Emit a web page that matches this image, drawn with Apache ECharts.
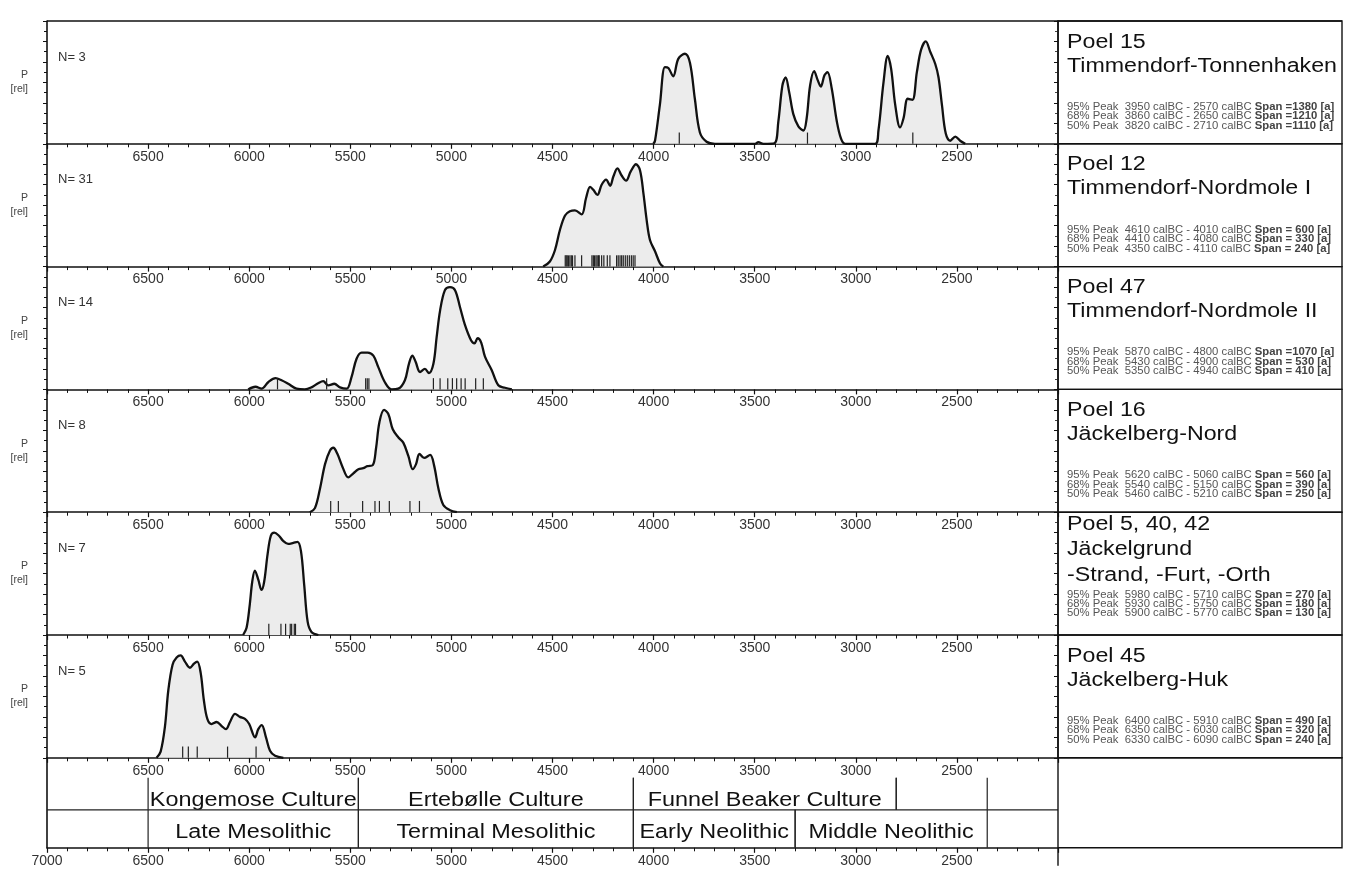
<!DOCTYPE html>
<html>
<head>
<meta charset="utf-8">
<title>Poel – summed calibrated radiocarbon dates</title>
<script src="https://cdn.jsdelivr.net/npm/echarts@6/dist/echarts.min.js"></script>
<style>
  html, body { margin: 0; padding: 0; background: #fff; }
  #chart { width: 1350px; height: 878px; }
</style>
</head>
<body>
<div id="chart"></div>
<script>
// ---- data: relative summed probability per site, [calBC, p] ----
const curvePoel15 = [[4001,0],[3993,0.03],[3969,0.38],[3944,0.75],[3927,0.74],[3903,0.66],[3878,0.83],[3845,0.88],[3820,0.79],[3796,0.44],[3771,0.11],[3738,0.02],[3697,0],[3498,0],[3482,0.015],[3457,0],[3403,0.005],[3383,0.22],[3363,0.57],[3347,0.65],[3330,0.51],[3309,0.29],[3284,0.17],[3259,0.13],[3243,0.25],[3226,0.57],[3206,0.71],[3188,0.62],[3173,0.56],[3155,0.67],[3140,0.70],[3119,0.54],[3094,0.22],[3073,0.05],[3053,0],[2904,0],[2888,0.13],[2863,0.60],[2842,0.86],[2825,0.73],[2805,0.38],[2781,0.16],[2764,0.25],[2743,0.44],[2720,0.43],[2698,0.70],[2677,0.92],[2654,1.0],[2632,0.90],[2607,0.78],[2591,0.65],[2574,0.38],[2555,0.10],[2533,0.03],[2508,0.07],[2484,0.03],[2459,0]];
const curvePoel12 = [[4546,0],[4513,0.05],[4488,0.16],[4463,0.36],[4438,0.50],[4414,0.54],[4389,0.55],[4356,0.51],[4334,0.67],[4314,0.78],[4298,0.75],[4278,0.70],[4257,0.80],[4235,0.85],[4215,0.79],[4199,0.88],[4179,0.96],[4158,0.89],[4136,0.84],[4113,0.93],[4087,1.0],[4067,0.94],[4050,0.71],[4034,0.45],[4018,0.26],[3993,0.15],[3968,0.03],[3952,0]];
const curvePoel47 = [[6005,0],[5969,0.026],[5939,0.007],[5906,0.07],[5870,0.11],[5840,0.09],[5807,0.055],[5766,0.007],[5725,0],[5692,0.02],[5659,0.06],[5634,0.08],[5609,0.04],[5579,0.055],[5551,0.02],[5518,0.007],[5494,0.12],[5469,0.30],[5444,0.36],[5414,0.36],[5386,0.33],[5362,0.22],[5329,0.07],[5296,0],[5263,0.007],[5230,0.09],[5210,0.25],[5193,0.33],[5177,0.27],[5155,0.17],[5131,0.20],[5111,0.16],[5089,0.25],[5073,0.51],[5056,0.77],[5032,0.97],[5007,1.0],[4982,0.97],[4957,0.80],[4933,0.63],[4903,0.48],[4886,0.45],[4870,0.50],[4853,0.46],[4834,0.32],[4801,0.19],[4768,0.04],[4735,0.016],[4701,0]];
const curvePoel16 = [[5700,0],[5675,0.04],[5650,0.23],[5625,0.47],[5601,0.60],[5584,0.63],[5564,0.57],[5538,0.44],[5510,0.34],[5485,0.38],[5460,0.42],[5436,0.43],[5416,0.45],[5389,0.46],[5373,0.62],[5356,0.88],[5333,1.0],[5312,0.96],[5290,0.81],[5262,0.73],[5238,0.68],[5213,0.55],[5191,0.42],[5175,0.47],[5158,0.57],[5135,0.53],[5105,0.56],[5086,0.46],[5064,0.23],[5040,0.07],[5007,0.02],[4973,0]];
const curvePoel5 = [[6030,0],[6013,0.07],[5997,0.30],[5985,0.52],[5972,0.63],[5955,0.54],[5939,0.44],[5926,0.52],[5909,0.79],[5893,0.97],[5876,1.0],[5853,0.97],[5832,0.92],[5807,0.89],[5782,0.90],[5761,0.91],[5744,0.82],[5728,0.49],[5711,0.13],[5692,0.03],[5658,0]];
const curvePoel45 = [[6458,0],[6438,0.06],[6417,0.30],[6400,0.66],[6379,0.91],[6359,0.98],[6339,1.0],[6318,0.94],[6293,0.88],[6273,0.92],[6257,0.94],[6240,0.83],[6224,0.56],[6207,0.38],[6186,0.33],[6161,0.35],[6136,0.31],[6115,0.28],[6095,0.35],[6070,0.43],[6046,0.40],[6021,0.38],[6000,0.33],[5971,0.20],[5955,0.28],[5938,0.32],[5917,0.20],[5897,0.07],[5872,0.02],[5831,0]];

// ---- individual dates (median calBC), drawn as a rug ----
const datesPoel15 = [3873, 3239, 2718];
const datesPoel12 = [4437,4432,4427,4421,4414,4407,4401,4389,4356,4305,4298,4292,4285,4279,4272,4269,4257,4246,4229,4216,4183,4175,4166,4158,4150,4140,4130,4120,4110,4101,4092];
const datesPoel47 = [5860,5617,5424,5416,5408,5089,5056,5018,4995,4974,4952,4932,4880,4842];
const datesPoel16 = [5597,5559,5439,5378,5356,5307,5205,5158];
const datesPoel5 = [5903,5843,5820,5797,5790,5777,5771];
const datesPoel45 = [6329,6301,6257,6107,5966];

// ---- site labels ----
const siteTitles = [
  ['Poel 15', 'Timmendorf-Tonnenhaken'],
  ['Poel 12', 'Timmendorf-Nordmole I'],
  ['Poel 47', 'Timmendorf-Nordmole II'],
  ['Poel 16', 'Jäckelberg-Nord'],
  ['Poel 5, 40, 42', 'Jäckelgrund', '-Strand, -Furt, -Orth'],
  ['Poel 45', 'Jäckelberg-Huk']
];
const sampleCounts = [3, 31, 14, 8, 7, 5];

// ---- highest-density ranges: [level %, from calBC, to calBC, span a, word] ----
const peaksPoel15 = [[95,3950,2570,1380,'Span'],[68,3860,2650,1210,'Span'],[50,3820,2710,1110,'Span']];
const peaksPoel12 = [[95,4610,4010,600,'Spen'],[68,4410,4080,330,'Span'],[50,4350,4110,240,'Span']];
const peaksPoel47 = [[95,5870,4800,1070,'Span'],[68,5430,4900,530,'Span'],[50,5350,4940,410,'Span']];
const peaksPoel16 = [[95,5620,5060,560,'Span'],[68,5540,5150,390,'Span'],[50,5460,5210,250,'Span']];
const peaksPoel5 = [[95,5980,5710,270,'Span'],[68,5930,5750,180,'Span'],[50,5900,5770,130,'Span']];
const peaksPoel45 = [[95,6400,5910,490,'Span'],[68,6350,6030,320,'Span'],[50,6330,6090,240,'Span']];

// ---- archaeological periods ----
const cultureNames = ['Kongemose Culture', 'Ertebølle Culture', 'Funnel Beaker Culture', ''];
const cultureBounds = [6500, 5460, 4100, 2800, 2350];
const periodNames = ['Late Mesolithic', 'Terminal Mesolithic', 'Early Neolithic', 'Middle Neolithic'];
const periodBounds = [6500, 5460, 4100, 3300, 2350];

// ---- axis ----
const yearMin = 2000, yearMax = 7000, yearStep = 500;

// ---- layout ----
const curves = [curvePoel15, curvePoel12, curvePoel47, curvePoel16, curvePoel5, curvePoel45];
const dates = [datesPoel15, datesPoel12, datesPoel47, datesPoel16, datesPoel5, datesPoel45];
const peaks = [peaksPoel15, peaksPoel12, peaksPoel47, peaksPoel16, peaksPoel5, peaksPoel45];

const PLOT_LEFT = 47, PLOT_W = 1011, TOP0 = 21, PANEL_H = 122.8, TABLE_H = 90;
const BOX_LEFT = PLOT_LEFT + PLOT_W, BOX_RIGHT = 1342;
const P_MAX = 1.2, RUG_H = 0.11;
const ROW_SPLIT = 38, DIVIDER_TOP = 70;
const FONT = '"Liberation Sans", Arial, sans-serif';
const INK = '#111';

const chart = echarts.init(document.getElementById('chart'), null, { renderer: 'canvas' });

const grids = [], xAxes = [], yAxes = [], series = [], graphics = [];

function xAxisFor(i, isTable) {
  return {
    type: 'value', gridIndex: i, min: yearMin, max: yearMax, interval: yearStep, inverse: true,
    axisLine: { show: true, onZero: false, lineStyle: { color: INK, width: 1.6 } },
    axisTick: { show: true, length: 5, lineStyle: { color: INK, width: 1.2 } },
    minorTick: { show: true, splitNumber: 5, length: 3.5, lineStyle: { color: INK, width: 1 } },
    axisLabel: {
      show: true, margin: 6, fontSize: 14, color: '#333', fontFamily: FONT,
      formatter: v => String(v),
      showMinLabel: false, showMaxLabel: !!isTable
    },
    splitLine: { show: false }, minorSplitLine: { show: false }
  };
}

for (let i = 0; i < 6; i++) {
  const top = TOP0 + i * PANEL_H;
  grids.push({ left: PLOT_LEFT, top: top, width: PLOT_W, height: PANEL_H });
  xAxes.push(xAxisFor(i, false));
  const yBase = {
    type: 'value', gridIndex: i, min: 0, max: P_MAX, interval: 0.2,
    axisLabel: { show: false }, splitLine: { show: false },
    axisLine: { show: true, lineStyle: { color: INK, width: 1.6 } }
  };
  yAxes.push(Object.assign({}, yBase, {
    position: 'left',
    axisTick: { show: true, length: 4, lineStyle: { color: INK, width: 1 } },
    minorTick: { show: true, splitNumber: 2, length: 3, lineStyle: { color: INK, width: 1 } },
    name: 'P\n[rel]', nameLocation: 'middle', nameGap: 19, nameRotate: 0,
    nameTextStyle: { fontSize: 10.5, color: '#444', lineHeight: 14, fontFamily: FONT }
  }));
  yAxes.push(Object.assign({}, yBase, {
    position: 'right',
    axisTick: { show: true, inside: true, length: 4, lineStyle: { color: INK, width: 1 } },
    minorTick: { show: true, splitNumber: 2, length: 3, lineStyle: { color: '#444', width: 1 } }
  }));

  series.push({
    type: 'line', xAxisIndex: i, yAxisIndex: 2 * i, data: curves[i],
    smooth: 0.35, symbol: 'none', clip: true, z: 2,
    lineStyle: { color: INK, width: 2.3 },
    areaStyle: { color: '#ececec', opacity: 1 }
  });
  series.push({
    type: 'custom', xAxisIndex: i, yAxisIndex: 2 * i, z: 3,
    data: dates[i].map(d => [d]),
    renderItem: function (params, api) {
      const a = api.coord([api.value(0), 0]);
      const b = api.coord([api.value(0), RUG_H]);
      return { type: 'line', shape: { x1: a[0], y1: a[1], x2: b[0], y2: b[1] },
               style: { stroke: '#222', lineWidth: 1.2 } };
    }
  });

  // sample count
  graphics.push({ type: 'text', x: PLOT_LEFT + 11, y: top + 36,
    style: { text: 'N= ' + sampleCounts[i], font: '13px ' + FONT, fill: '#333', verticalAlign: 'middle' } });

  // site box
  graphics.push({ type: 'rect', shape: { x: BOX_LEFT, y: top, width: BOX_RIGHT - BOX_LEFT, height: PANEL_H },
    style: { fill: 'none', stroke: INK, lineWidth: 1.4 } });
  const t = siteTitles[i];
  const titleY = t.length === 3 ? [12, 37, 63] : [21, 45];
  t.forEach((line, k) => {
    graphics.push({ type: 'text', x: BOX_LEFT + 9, y: top + titleY[k], scaleX: 1.16,
      style: { text: line, font: '20px ' + FONT, fill: '#111', verticalAlign: 'middle' } });
  });
  const peakY = t.length === 3 ? [83, 92, 101] : [86, 95.5, 105];
  peaks[i].forEach((p, k) => {
    const head = p[0] + '% Peak  ' + p[1] + ' calBC - ' + p[2] + ' calBC ';
    const tail = p[4] + ' =' + String(p[3]).padStart(4, ' ') + ' [a]';
    graphics.push({ type: 'text', x: BOX_LEFT + 9, y: top + peakY[k], scaleX: 1.13,
      style: { text: '{a|' + head + '}{b|' + tail + '}', verticalAlign: 'middle',
        rich: { a: { font: '10px ' + FONT, fill: '#555' }, b: { font: 'bold 10px ' + FONT, fill: '#444' } } } });
  });
}

// ---- period table with the shared bottom axis ----
const tableTop = TOP0 + 6 * PANEL_H;
grids.push({ left: PLOT_LEFT, top: tableTop, width: PLOT_W, height: TABLE_H });
xAxes.push(xAxisFor(6, true));
yAxes.push({ type: 'value', gridIndex: 6, min: 0, max: TABLE_H, show: true,
  axisLine: { show: true, lineStyle: { color: INK, width: 1.6 } },
  axisTick: { show: false }, axisLabel: { show: false }, splitLine: { show: false } });

function cellSeries(names, bounds, y0, y1, textY) {
  return {
    type: 'custom', xAxisIndex: 6, yAxisIndex: 12, z: 3,
    data: names.map((n, k) => [bounds[k], bounds[k + 1]]),
    renderItem: function (params, api) {
      const a0 = api.coord([api.value(0), y0]);
      const a1 = api.coord([api.value(0), y1]);
      const b0 = api.coord([api.value(1), y0]);
      const b1 = api.coord([api.value(1), y1]);
      const c = api.coord([(api.value(0) + api.value(1)) / 2, textY]);
      return { type: 'group', children: [
        { type: 'line', shape: { x1: a0[0], y1: a0[1], x2: a1[0], y2: a1[1] }, style: { stroke: '#222', lineWidth: 1.2 } },
        { type: 'line', shape: { x1: b0[0], y1: b0[1], x2: b1[0], y2: b1[1] }, style: { stroke: '#222', lineWidth: 1.2 } },
        { type: 'text', x: c[0], y: c[1], scaleX: 1.17,
          style: { text: names[params.dataIndex], font: '20px ' + FONT, fill: '#111', align: 'center', verticalAlign: 'middle' } }
      ] };
    }
  };
}
series.push(cellSeries(cultureNames, cultureBounds, ROW_SPLIT, DIVIDER_TOP, 47));
series.push(cellSeries(periodNames, periodBounds, 0, ROW_SPLIT, 15));
series.push({
  type: 'custom', xAxisIndex: 6, yAxisIndex: 12, z: 3, data: [[yearMax, yearMin]],
  renderItem: function (params, api) {
    const a = api.coord([api.value(0), ROW_SPLIT]);
    const b = api.coord([api.value(1), ROW_SPLIT]);
    return { type: 'line', shape: { x1: a[0], y1: a[1], x2: b[0], y2: b[1] }, style: { stroke: '#222', lineWidth: 1.3 } };
  }
});

// outer frame pieces
graphics.push({ type: 'line', shape: { x1: PLOT_LEFT, y1: TOP0, x2: BOX_RIGHT, y2: TOP0 }, style: { stroke: INK, lineWidth: 1.6 } });
graphics.push({ type: 'rect', shape: { x: BOX_LEFT, y: tableTop, width: BOX_RIGHT - BOX_LEFT, height: TABLE_H },
  style: { fill: 'none', stroke: INK, lineWidth: 1.4 } });
graphics.push({ type: 'line', shape: { x1: BOX_LEFT, y1: tableTop + TABLE_H, x2: BOX_LEFT, y2: tableTop + TABLE_H + 18 },
  style: { stroke: INK, lineWidth: 1.4 } });

chart.setOption({
  animation: false,
  backgroundColor: '#ffffff',
  textStyle: { fontFamily: FONT },
  grid: grids, xAxis: xAxes, yAxis: yAxes, series: series,
  graphic: graphics.map(g => Object.assign({ silent: true, z: 10 }, g))
});
</script>
</body>
</html>
